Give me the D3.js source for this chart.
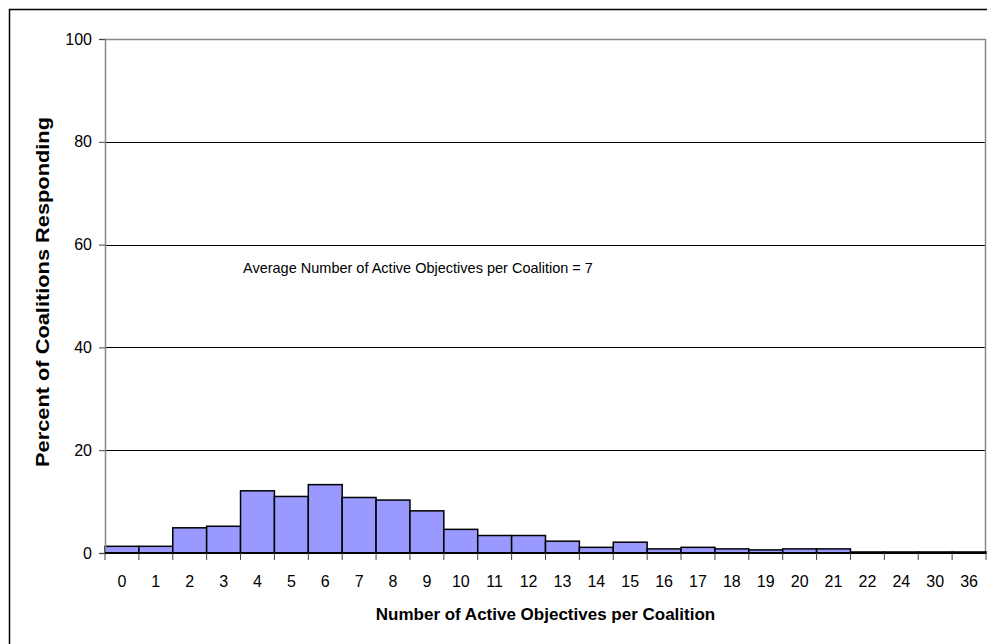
<!DOCTYPE html>
<html>
<head>
<meta charset="utf-8">
<script src="https://cdn.jsdelivr.net/npm/d3@7"></script>
<style>
  html, body { margin: 0; padding: 0; background: #fff; }
  svg { display: block; }
  text { font-family: "Liberation Sans", Arial, sans-serif; fill: #000; }
</style>
</head>
<body>
<svg id="chart" width="987" height="644"></svg>
<script>
// Number of active objectives reported per coalition
const categories = ["0","1","2","3","4","5","6","7","8","9","10","11","12","13","14","15","16","17","18","19","20","21","22","24","30","36"];
const percents   = [1.3, 1.3, 4.9, 5.2, 12.1, 11.0, 13.3, 10.8, 10.3, 8.2, 4.6, 3.4, 3.4, 2.3, 1.1, 2.1, 0.8, 1.1, 0.8, 0.6, 0.8, 0.8, 0.2, 0.2, 0.2, 0.2];
const yTicks     = [0, 20, 40, 60, 80, 100];
const averageNote = "Average Number of Active Objectives per Coalition = 7";

const svg = d3.select("#chart");
const W = 987, H = 644;
const plot = { left: 105, right: 986, top: 39, bottom: 553 };

// Outer chart border
svg.append("rect")
  .attr("x", 9.5).attr("y", 9.5)
  .attr("width", W + 10).attr("height", H + 10)
  .attr("fill", "none").attr("stroke", "#000").attr("stroke-width", 1.5);

const x = d3.scaleBand().domain(categories).range([plot.left, plot.right]).padding(0);
const y = d3.scaleLinear().domain([0, 100]).range([plot.bottom, plot.top]);

// Horizontal gridlines
svg.append("g")
  .selectAll("line")
  .data(yTicks.filter(t => t > 0 && t < 100))
  .join("line")
  .attr("x1", plot.left).attr("x2", plot.right)
  .attr("y1", d => Math.round(y(d)) + 0.5).attr("y2", d => Math.round(y(d)) + 0.5)
  .attr("stroke", "#000").attr("stroke-width", 1);

// Plot area frame (top and right edges)
svg.append("path")
  .attr("d", `M${plot.left},${plot.top + 0.5}H${plot.right - 0.5}V${plot.bottom}`)
  .attr("fill", "none").attr("stroke", "#888").attr("stroke-width", 1.5);

// Bars
svg.append("g")
  .selectAll("rect")
  .data(categories.map((c, i) => ({ c, v: percents[i] })))
  .join("rect")
  .attr("x", d => x(d.c))
  .attr("y", d => y(d.v))
  .attr("width", x.bandwidth())
  .attr("height", d => y(0) - y(d.v))
  .attr("fill", "#9999FF")
  .attr("stroke", "#000").attr("stroke-width", 1.5);

// Y axis
const yAxis = d3.axisLeft(y).tickValues(yTicks).tickSize(6).tickPadding(7).tickFormat(d3.format("d"));
const gy = svg.append("g").attr("transform", `translate(${plot.left},0)`).call(yAxis);
gy.select(".domain").attr("stroke", "#888").attr("stroke-width", 1.5);
gy.selectAll(".tick line").attr("stroke", "#444");
gy.selectAll(".tick text").attr("font-size", 16).attr("font-family", "Liberation Sans, Arial, sans-serif");

// X axis: ticks sit on category boundaries, labels centred in each band
const gx = svg.append("g").attr("transform", `translate(0,${plot.bottom})`);
gx.append("line")
  .attr("x1", plot.left).attr("x2", plot.right)
  .attr("stroke", "#000").attr("stroke-width", 2);
const boundaries = categories.map(c => x(c)).concat([plot.right]);
gx.selectAll("line.tk")
  .data(boundaries)
  .join("line").attr("class", "tk")
  .attr("x1", d => d).attr("x2", d => d)
  .attr("y1", 0).attr("y2", 7)
  .attr("stroke", "#444").attr("stroke-width", 1);
gx.selectAll("text")
  .data(categories)
  .join("text")
  .attr("x", d => x(d) + x.bandwidth() / 2)
  .attr("y", 34)
  .attr("text-anchor", "middle")
  .attr("font-size", 16)
  .text(d => d);

// Axis titles
svg.append("text")
  .attr("x", (plot.left + plot.right) / 2)
  .attr("y", 620)
  .attr("text-anchor", "middle")
  .attr("font-size", 17).attr("font-weight", "bold")
  .text("Number of Active Objectives per Coalition");

svg.append("text")
  .attr("transform", "translate(49,292) rotate(-90)")
  .attr("text-anchor", "middle")
  .attr("font-size", 18).attr("font-weight", "bold")
  .attr("textLength", 350).attr("lengthAdjust", "spacingAndGlyphs")
  .text("Percent of Coalitions Responding");

// Average annotation
svg.append("text")
  .attr("x", 243).attr("y", 273)
  .attr("font-size", 14.5)
  .text(averageNote);
</script>
</body>
</html>
